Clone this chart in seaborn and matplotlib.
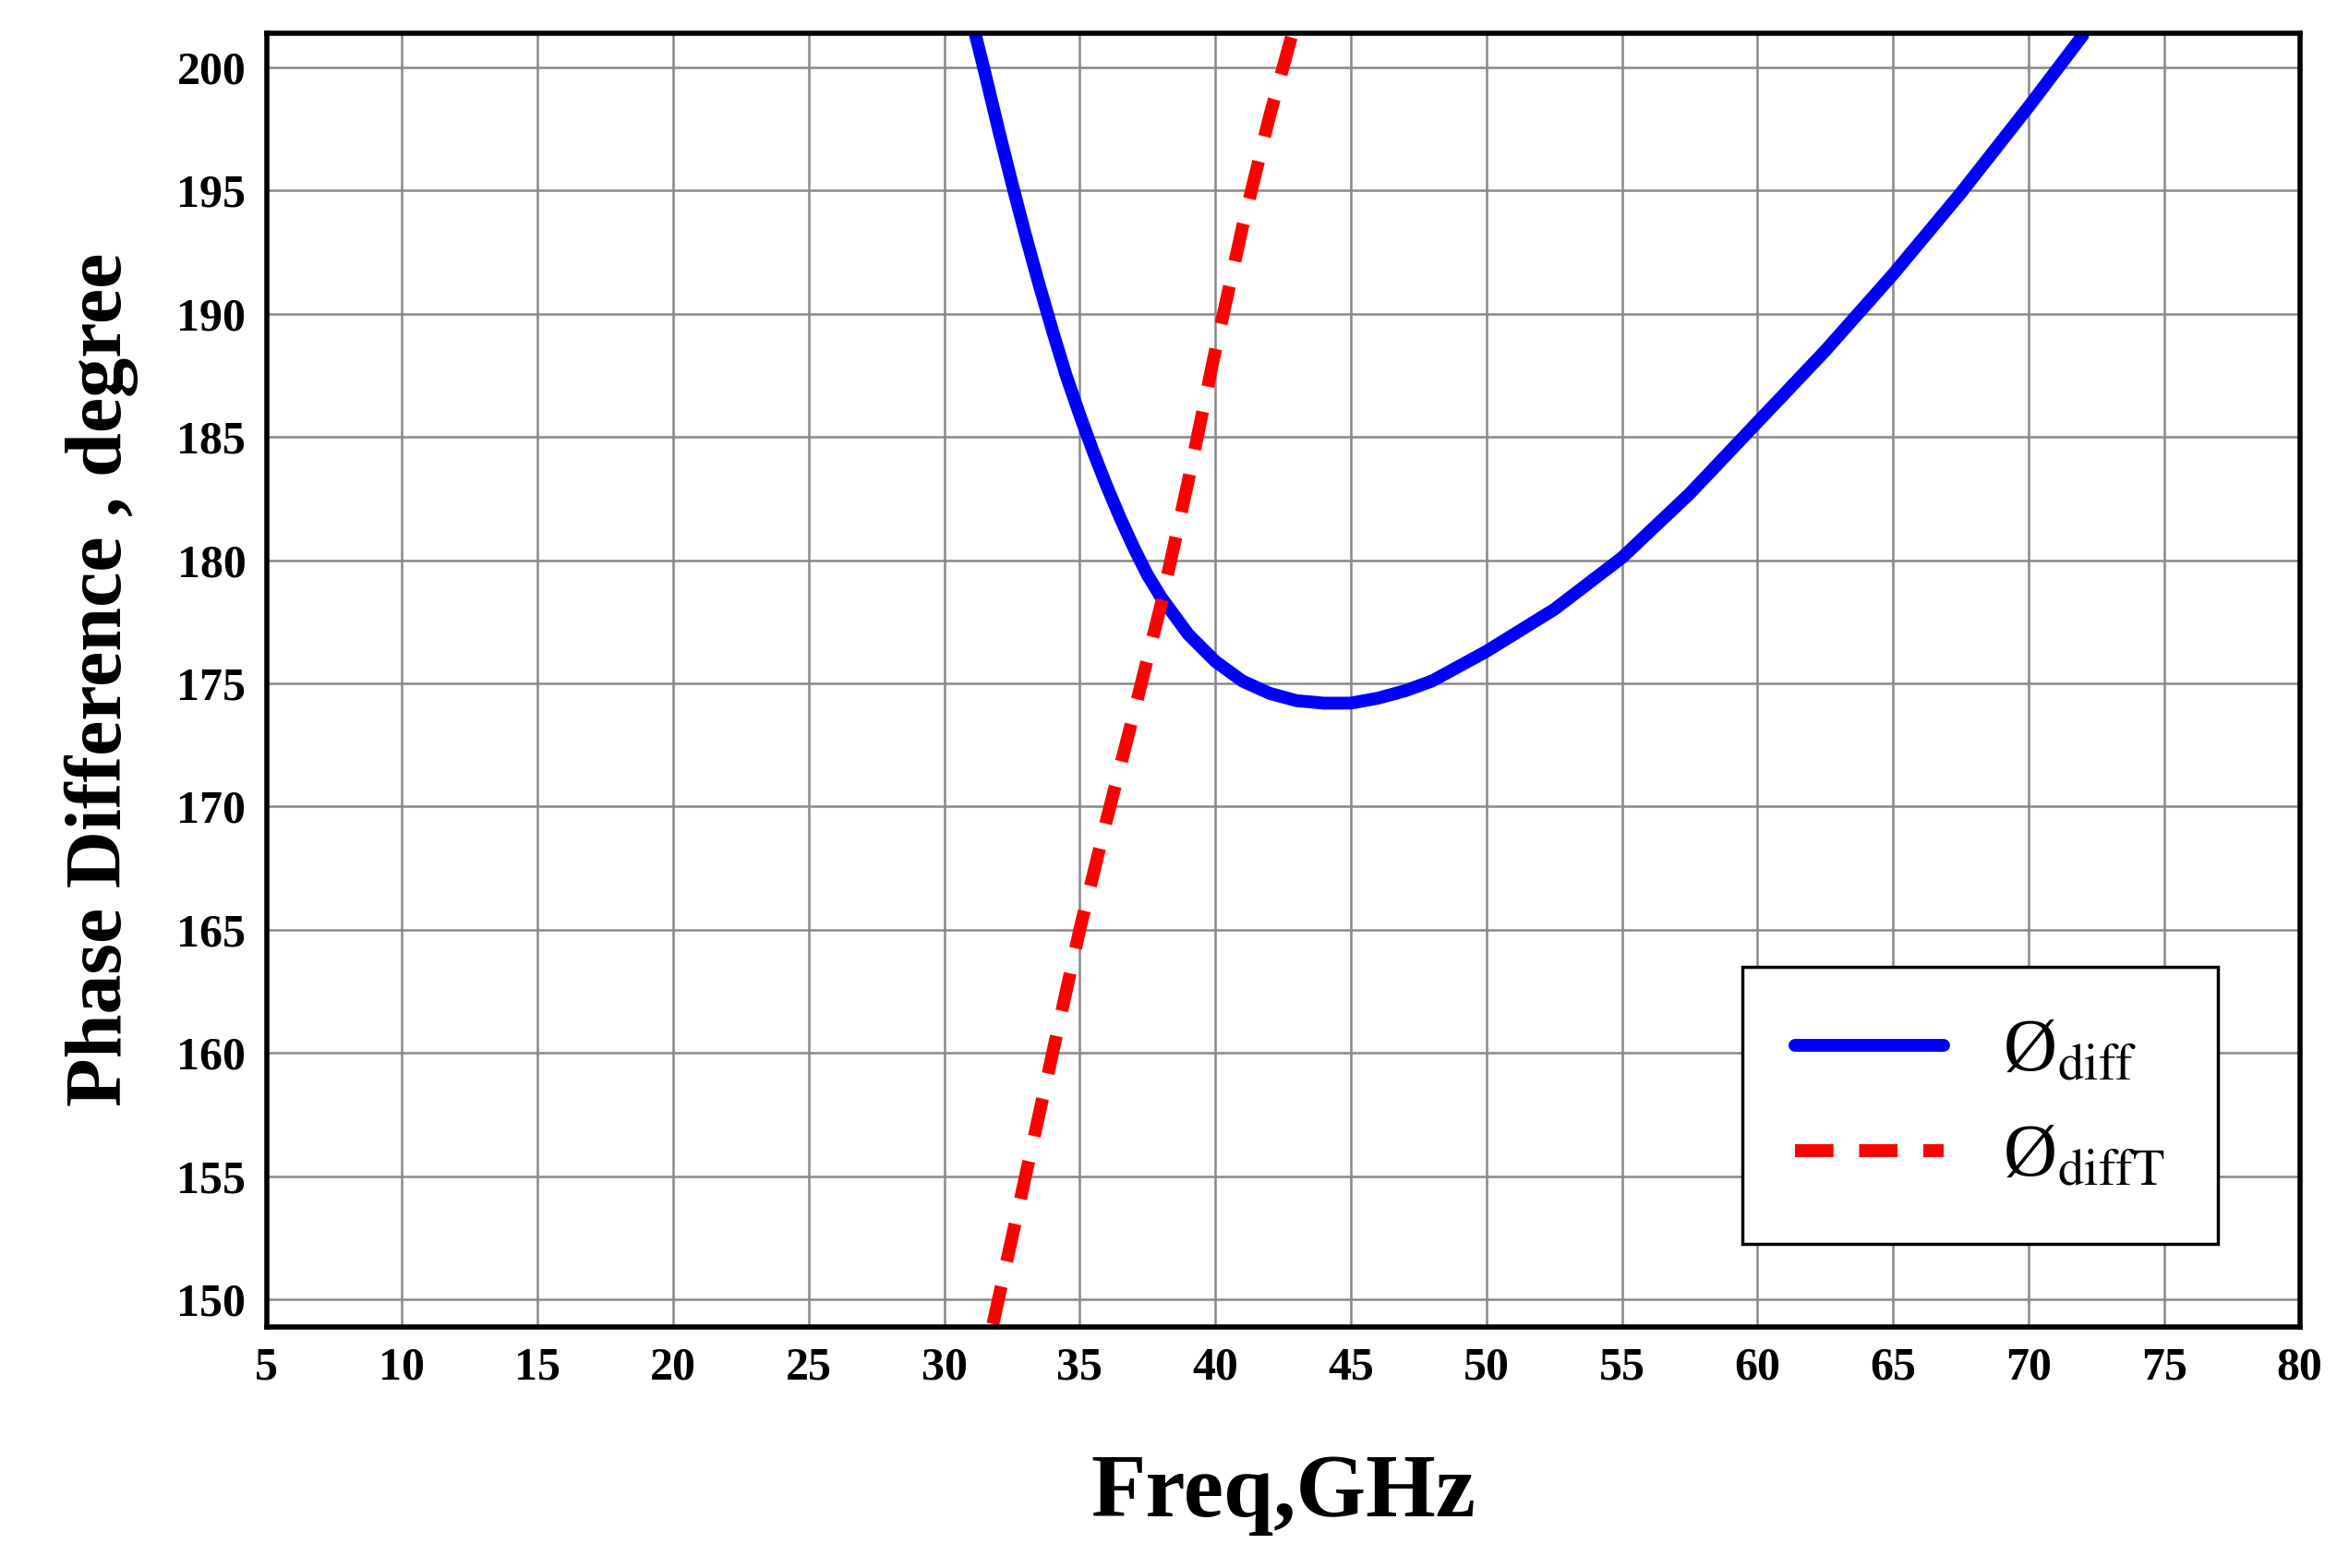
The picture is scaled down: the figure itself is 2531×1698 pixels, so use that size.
import matplotlib
matplotlib.use("Agg")
import matplotlib.pyplot as plt
import seaborn as sns
import pandas as pd

# values
freq_diff = [31.0, 31.5, 32.0, 32.5, 33.0, 33.5, 34.0, 34.5, 35.0, 35.5, 36.0, 36.5, 37.0, 37.5, 38.0, 39.0,
             40.0, 41.0, 42.0, 43.0, 44.0, 45.0, 46.0, 47.0, 48.0, 50.0, 52.5, 55.0, 57.5, 60.0,
             62.5, 65.0, 67.5, 70.0, 72.0]
phase_diff = [202.0, 199.8, 197.5, 195.3, 193.2, 191.2, 189.3, 187.5, 185.9, 184.4, 183.0, 181.7, 180.5, 179.4,
              178.5, 177.0, 175.9, 175.1, 174.6, 174.3, 174.2, 174.2, 174.4, 174.7, 175.1, 176.3, 178.0,
              180.1, 182.7, 185.6, 188.5, 191.6, 194.9, 198.4, 201.3]
freq_difft = [31.8, 33.0, 34.0, 35.0, 36.0, 37.0, 38.0, 39.0, 40.0, 41.0, 42.0, 43.0]
phase_difft = [149.0, 155.0, 160.0, 165.0, 169.5, 173.8, 178.2, 183.2, 188.5, 193.5, 198.0, 202.0]
x_ticks = list(range(5, 85, 5))
y_ticks = list(range(150, 205, 5))

sns.set_style("white")
plt.rcParams["font.family"] = ["Liberation Serif", "DejaVu Serif"]
plt.rcParams["mathtext.fontset"] = "stix"
plt.rcParams["text.color"] = "black"

fig = plt.figure(figsize=(25.31, 16.98), dpi=100)
ax = fig.add_axes([0.114, 0.154, 0.870, 0.825])

df1 = pd.DataFrame({"f": freq_diff, "p": phase_diff})
df2 = pd.DataFrame({"f": freq_difft, "p": phase_difft})
sns.lineplot(data=df1, x="f", y="p", ax=ax, color="#0000ff", lw=10,
             label="Ø$_{\\mathrm{diff}}$", sort=False)
sns.lineplot(data=df2, x="f", y="p", ax=ax, color="#ff0000", lw=10,
             linestyle=(0, (3, 2)), label="Ø$_{\\mathrm{diffT}}$", sort=False)

ax.set_xlim(5, 80)
ax.set_ylim(148.9, 201.4)
ax.set_xticks(x_ticks)
ax.set_yticks(y_ticks)
ax.grid(True, color="#888888", lw=1.8)
for s in ax.spines.values():
    s.set_color("black")
    s.set_linewidth(4)
ax.tick_params(labelsize=36, length=0, pad=16, labelcolor="black")
for t in ax.get_xticklabels() + ax.get_yticklabels():
    t.set_fontweight("bold")
ax.set_xlabel("Freq,GHz", fontsize=70, fontweight="bold", labelpad=50, color="black")
ax.set_ylabel("Phase Difference , degree", fontsize=62, fontweight="bold", labelpad=30, color="black")

leg = ax.legend(loc="lower right", bbox_to_anchor=(0.978, 0.035), fontsize=58,
                frameon=True, fancybox=False, edgecolor="black", framealpha=1,
                handlelength=2.0, borderpad=0.7, labelspacing=0.5)
leg.get_frame().set_linewidth(2.5)

fig.savefig("out.png", dpi=100)
